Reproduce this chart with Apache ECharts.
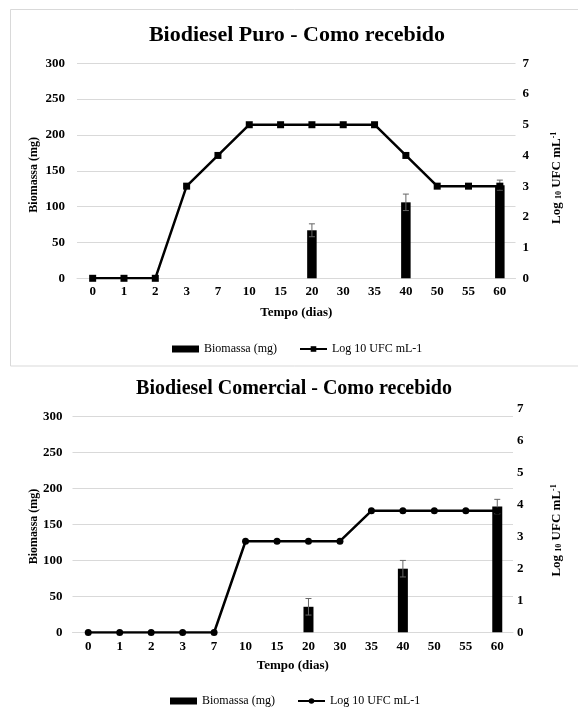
<!DOCTYPE html>
<html><head><meta charset="utf-8">
<script src="https://cdn.jsdelivr.net/npm/echarts@6/dist/echarts.min.js"></script>
<style>html,body{margin:0;padding:0;background:#fff}#c{width:578px;height:708px}</style>
</head><body><div id="c"></div>
<script>
// ---- data ----
const categories = ['0','1','2','3','7','10','15','20','30','35','40','50','55','60'];
const puroBiomassa    = [null,null,null,null,null,null,null,67,null,null,106,null,null,130];
const puroBiomassaErr = [null,null,null,null,null,null,null,9,null,null,11.5,null,null,7];
const puroLog         = [0,0,0,3,4,5,5,5,5,5,4,3,3,3];
const comBiomassa     = [null,null,null,null,null,null,null,35.5,null,null,88.5,null,null,175];
const comBiomassaErr  = [null,null,null,null,null,null,null,11.5,null,null,11.5,null,null,10];
const comLog          = [0,0,0,0,0,2.85,2.85,2.85,2.85,3.8,3.8,3.8,3.8,3.8];
const titles = ['Biodiesel Puro - Como recebido', 'Biodiesel Comercial - Como recebido'];
const xName = 'Tempo (dias)';
const yLeftName = 'Biomassa (mg)';
const yRightName = '{a|Log }{s|10}{a| UFC mL}{p|-1}';
const legendBio = 'Biomassa (mg)';
const legendLog = 'Log 10 UFC mL-1';

// ---- styling ----
const FF = "'Liberation Serif','Times New Roman',serif";
const GRID_C = '#d9d9d9';

function errData(vals, errs) {
  const out = [];
  vals.forEach((v, i) => { if (v != null) out.push([i, v - errs[i], v + errs[i]]); });
  return out;
}
function errRender(params, api) {
  const x = api.value(0);
  const p1 = api.coord([x, api.value(2)]);
  const p2 = api.coord([x, api.value(1)]);
  const w = 3;
  const st = { stroke: '#666', lineWidth: 1 };
  return { type: 'group', children: [
    { type: 'line', shape: { x1: p1[0], y1: p1[1], x2: p2[0], y2: p2[1] }, style: st },
    { type: 'line', shape: { x1: p1[0] - w, y1: p1[1], x2: p1[0] + w, y2: p1[1] }, style: st },
    { type: 'line', shape: { x1: p2[0] - w, y1: p2[1], x2: p2[0] + w, y2: p2[1] }, style: st }
  ]};
}
const tickLabel = { fontFamily: FF, fontSize: 13, fontWeight: 'bold', color: '#000' };

function rightNameStyle(shift) {
  return {
    fontFamily: FF, fontWeight: 'bold', color: '#000', padding: [0, shift, 0, 0],
    rich: {
      a: { fontFamily: FF, fontSize: 13, fontWeight: 'bold', color: '#000' },
      s: { fontFamily: FF, fontSize: 8, fontWeight: 'bold', color: '#000', verticalAlign: 'bottom' },
      p: { fontFamily: FF, fontSize: 8, fontWeight: 'bold', color: '#000', verticalAlign: 'top' }
    }
  };
}

function xAxisCfg(gridIndex, nameGap, margin, show) {
  return {
    type: 'category', data: categories, gridIndex: gridIndex, show: show,
    name: xName, nameLocation: 'middle', nameGap: nameGap,
    nameTextStyle: { fontFamily: FF, fontSize: 13, fontWeight: 'bold', color: '#000' },
    axisLine: { show: true, lineStyle: { color: GRID_C, width: 1 } },
    axisTick: { show: false },
    axisLabel: Object.assign({ margin: margin, interval: 0 }, tickLabel)
  };
}
function leftAxisCfg(gridIndex, nameGap, margin, shift) {
  return {
    type: 'value', gridIndex: gridIndex, position: 'left', min: 0, max: 300, interval: 50,
    name: yLeftName, nameLocation: 'middle', nameGap: nameGap, nameRotate: 90,
    nameMoveOverlap: false,
    nameTextStyle: { fontFamily: FF, fontSize: 12, fontWeight: 'bold', color: '#000', padding: [0, shift, 0, 0] },
    axisLine: { show: false }, axisTick: { show: false },
    splitLine: { show: true, lineStyle: { color: GRID_C, width: 1 } },
    axisLabel: Object.assign({ margin: margin }, tickLabel)
  };
}
function rightAxisCfg(gridIndex, nameGap, margin, shift) {
  return {
    type: 'value', gridIndex: gridIndex, position: 'right', min: 0, max: 7, interval: 1,
    name: yRightName, nameLocation: 'middle', nameGap: nameGap, nameRotate: 90,
    nameMoveOverlap: false,
    nameTextStyle: rightNameStyle(shift),
    axisLine: { show: false }, axisTick: { show: false },
    splitLine: { show: false },
    axisLabel: Object.assign({ margin: margin }, tickLabel)
  };
}
function legendCfg(left, top, bioName, logName) {
  return {
    left: left, top: top, padding: 0, itemWidth: 27, itemHeight: 7, itemGap: 22, selectedMode: false,
    formatter: n => n.trim(),
    textStyle: { fontFamily: FF, fontSize: 12, color: '#000' },
    data: [{ name: bioName, icon: 'rect' }, { name: logName }]
  };
}

const chart = echarts.init(document.getElementById('c'), null, { renderer: 'canvas' });
chart.setOption({
  animation: false,
  backgroundColor: '#fff',
  graphic: [{
    type: 'rect', shape: { x: 10.5, y: 9.5, width: 620, height: 356.5 },
    style: { fill: 'none', stroke: '#d9d9d9', lineWidth: 1 }, z: -1
  }],
  title: [
    { text: titles[0], left: 297, top: 24, padding: 0, textAlign: 'center',
      textStyle: { fontFamily: FF, fontSize: 22, fontWeight: 'bold', color: '#000' } },
    { text: titles[1], left: 294, top: 379, padding: 0, textAlign: 'center',
      textStyle: { fontFamily: FF, fontSize: 20, fontWeight: 'bold', color: '#000' } }
  ],
  legend: [
    legendCfg(172, 343, legendBio, legendLog),
    legendCfg(170, 695, legendBio + ' ', legendLog + ' ')
  ],
  grid: [
    { left: 77, right: 62.5, top: 63.3, height: 215, outerBoundsMode: 'none', containLabel: false },
    { left: 72.5, right: 65, top: 416.7, height: 215.6, outerBoundsMode: 'none', containLabel: false },
    { left: 72.5, right: 65, top: 408.3, height: 224.2, outerBoundsMode: 'none', containLabel: false }
  ],
  xAxis: [
    xAxisCfg(0, 28, 7, true),
    xAxisCfg(1, 27, 8, true),
    xAxisCfg(2, 27, 8, false)
  ],
  yAxis: [
    leftAxisCfg(0, 37, 12, 8),
    rightAxisCfg(0, 34.5, 7, 14),
    leftAxisCfg(1, 33, 10, 4),
    rightAxisCfg(2, 37, 4, 20)
  ],
  series: [
    { name: legendBio, type: 'bar', xAxisIndex: 0, yAxisIndex: 0, data: puroBiomassa,
      barWidth: 9.5, itemStyle: { color: '#000' }, z: 2 },
    { type: 'custom', xAxisIndex: 0, yAxisIndex: 0, data: errData(puroBiomassa, puroBiomassaErr),
      encode: { x: 0, y: [1, 2] }, renderItem: errRender, z: 3, silent: true },
    { name: legendLog, type: 'line', xAxisIndex: 0, yAxisIndex: 1, data: puroLog,
      symbol: 'rect', symbolSize: 7, lineStyle: { color: '#000', width: 2.5 },
      itemStyle: { color: '#000' }, z: 4 },

    { name: legendBio + ' ', type: 'bar', xAxisIndex: 1, yAxisIndex: 2, data: comBiomassa,
      barWidth: 10, itemStyle: { color: '#000' }, z: 2 },
    { type: 'custom', xAxisIndex: 1, yAxisIndex: 2, data: errData(comBiomassa, comBiomassaErr),
      encode: { x: 0, y: [1, 2] }, renderItem: errRender, z: 3, silent: true },
    { name: legendLog + ' ', type: 'line', xAxisIndex: 2, yAxisIndex: 3, data: comLog,
      symbol: 'circle', symbolSize: 7, lineStyle: { color: '#000', width: 2.5 },
      itemStyle: { color: '#000' }, z: 4 }
  ]
});
</script>
</body></html>
